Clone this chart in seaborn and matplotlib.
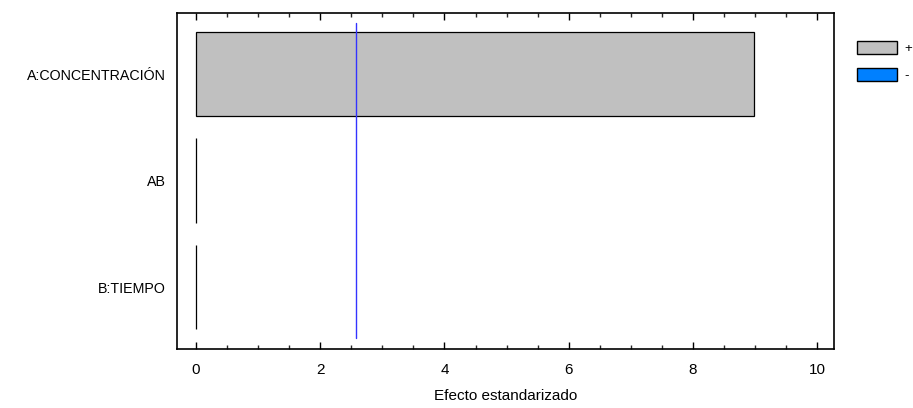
import matplotlib
matplotlib.use("Agg")
import matplotlib.pyplot as plt
import matplotlib.patches as mpatches
from matplotlib.ticker import MultipleLocator
import seaborn as sns
import pandas as pd

# Standardized effects (Pareto chart)
factors = ["A:CONCENTRACIÓN", "AB", "B:TIEMPO"]
effects = [8.99, 0.0, 0.0]
critical_value = 2.57
legend_labels = ["+", "-"]

sns.set_style("white")
plt.rcParams["font.family"] = ["Liberation Sans", "DejaVu Sans"]
plt.rcParams["text.color"] = "black"

df = pd.DataFrame({"factor": factors, "effect": effects})

fig = plt.figure(figsize=(9.13, 4.08), dpi=100)
ax = fig.add_axes([177 / 913, 1 - 349 / 408, (834 - 177) / 913, (349 - 13) / 408])

sns.barplot(data=df, x="effect", y="factor", orient="h", color="#C0C0C0",
            saturation=1, width=0.79, edgecolor="black", linewidth=0.9, ax=ax)
for p in ax.patches:
    p.set_facecolor("#C0C0C0")

# critical value of the standardized effect
ax.axvline(critical_value, ymin=0.033, ymax=0.97, color="#3333FF", linewidth=1.0)

ax.set_xlim(-0.306, 10.27)
ax.set_ylim(2.582, -0.573)
ax.xaxis.set_major_locator(MultipleLocator(2))
ax.xaxis.set_minor_locator(MultipleLocator(0.5))
ax.tick_params(axis="x", which="major", direction="in", length=5, width=1,
               top=True, bottom=True, labelsize=11, pad=10, colors="black")
ax.tick_params(axis="x", which="minor", direction="in", length=3, width=1,
               top=True, bottom=True)
ax.tick_params(axis="y", length=0, pad=8, labelsize=10.25, labelcolor="black")
for s in ax.spines.values():
    s.set_visible(True)
    s.set_color("black")
    s.set_linewidth(1.2)

ax.set_xlabel("Efecto estandarizado", fontsize=11, labelpad=9, color="black")
ax.set_ylabel("")

handles = [mpatches.Patch(facecolor="#C0C0C0", edgecolor="black", linewidth=1.0),
           mpatches.Patch(facecolor="#0080FF", edgecolor="black", linewidth=1.0)]
fig.legend(handles, legend_labels, loc="upper left", bbox_to_anchor=(852 / 913, 1 - 36 / 408),
           frameon=False, fontsize=9.5, handlelength=3.0, handleheight=1.1,
           handletextpad=0.6, labelspacing=1.0, borderaxespad=0)

fig.savefig("out.png", dpi=100)
